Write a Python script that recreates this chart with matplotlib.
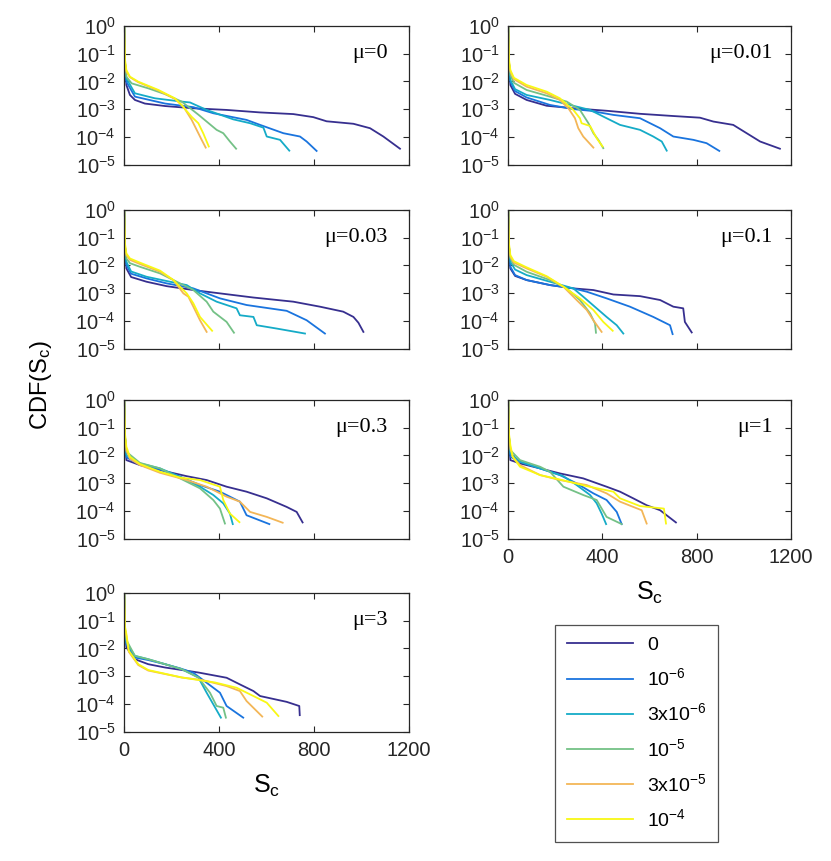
import numpy as np
import matplotlib
matplotlib.use('Agg')
from matplotlib import pyplot as plt
from matplotlib.lines import Line2D

plt.rcParams['font.family'] = ['Liberation Sans', 'DejaVu Sans']
plt.rcParams['mathtext.fontset'] = 'custom'
plt.rcParams['mathtext.rm'] = 'Liberation Sans'
plt.rcParams['mathtext.it'] = 'Liberation Sans:italic'

# rates (legend) and colours
rate_labels = ['0', '10$^{-6}$', '3x10$^{-6}$', '10$^{-5}$', '3x10$^{-5}$', '10$^{-4}$']
colors = ['#372f8f', '#1a74de', '#15abc7', '#74c186', '#f3b657', '#f8f814']
panel_titles = ['\u03bc=0', '\u03bc=0.01', '\u03bc=0.03', '\u03bc=0.1', '\u03bc=0.3', '\u03bc=1', '\u03bc=3']

# S_c values and log10 CDF per panel, one sublist per rate
mu0_s = [[1, 4, 10, 25, 46, 88, 173, 292, 432, 573, 713, 797, 853, 966, 1036, 1092, 1162],
         [1, 4, 10, 46, 102, 173, 292, 376, 516, 573, 671, 741, 769, 811],
         [1, 4, 10, 46, 130, 243, 278, 348, 460, 531, 587, 601, 657, 696],
         [1, 4, 10, 32, 102, 173, 243, 313, 348, 390, 418, 446, 472],
         [1, 4, 10, 25, 60, 145, 214, 250, 285, 306, 327, 344],
         [1, 4, 10, 25, 60, 145, 214, 243, 285, 313, 334, 357]]
mu0_logp = [[0, -1.3, -2.13, -2.49, -2.67, -2.80, -2.89, -2.97, -3.03, -3.12, -3.18, -3.29, -3.44, -3.53, -3.69, -3.99, -4.43],
            [0, -1.3, -2.01, -2.55, -2.66, -2.80, -2.93, -3.15, -3.39, -3.57, -3.87, -3.99, -4.17, -4.51],
            [0, -1.3, -1.89, -2.43, -2.61, -2.73, -2.76, -3.03, -3.37, -3.51, -3.67, -3.99, -4.11, -4.50],
            [0, -1.3, -1.83, -2.07, -2.25, -2.46, -2.73, -3.2, -3.45, -3.75, -3.87, -4.17, -4.43],
            [0, -1.3, -1.65, -1.85, -2.03, -2.33, -2.63, -2.91, -3.39, -3.75, -4.11, -4.39],
            [0, -1.2, -1.59, -1.83, -2.01, -2.31, -2.61, -2.86, -3.28, -3.51, -3.88, -4.35]]

mu001_s = [[1, 4, 10, 30, 79, 164, 277, 418, 560, 701, 814, 871, 955, 1012, 1069, 1153],
           [1, 4, 10, 30, 79, 178, 277, 348, 447, 560, 645, 701, 786, 842, 896],
           [1, 4, 10, 30, 79, 178, 277, 348, 404, 475, 560, 616, 652, 673],
           [1, 4, 10, 25, 79, 178, 249, 305, 341, 362, 383, 404],
           [1, 4, 10, 25, 79, 164, 220, 256, 284, 298, 319, 362],
           [1, 4, 10, 25, 79, 164, 220, 277, 305, 312, 348, 376, 401]]
mu001_logp = [[0, -1.3, -2.13, -2.45, -2.67, -2.88, -2.97, -3.06, -3.17, -3.25, -3.31, -3.45, -3.57, -3.87, -4.17, -4.43],
              [0, -1.3, -2.01, -2.35, -2.58, -2.85, -3.00, -3.06, -3.21, -3.33, -3.69, -3.99, -4.11, -4.23, -4.51],
              [0, -1.3, -1.95, -2.28, -2.49, -2.67, -2.88, -3.03, -3.27, -3.57, -3.75, -3.99, -4.17, -4.50],
              [0, -1.3, -1.77, -2.05, -2.31, -2.55, -2.73, -3.03, -3.51, -3.87, -4.11, -4.41],
              [0, -1.3, -1.65, -1.92, -2.19, -2.43, -2.67, -2.97, -3.33, -3.69, -3.99, -4.39],
              [0, -1.2, -1.59, -1.87, -2.13, -2.37, -2.61, -3.03, -3.33, -3.51, -3.61, -4.05, -4.35]]

mu003_s = [[1, 4, 10, 30, 95, 180, 292, 404, 545, 713, 825, 923, 966, 987, 1008],
           [1, 4, 10, 30, 95, 180, 292, 348, 404, 516, 685, 769, 846],
           [1, 4, 10, 30, 95, 194, 264, 320, 390, 474, 488, 545, 559, 643, 762],
           [1, 4, 10, 25, 67, 152, 222, 292, 348, 376, 432, 463],
           [1, 4, 10, 25, 67, 152, 208, 250, 271, 292, 320, 348],
           [1, 4, 10, 25, 67, 152, 208, 264, 292, 320, 371]]
mu003_logp = [[0, -1.3, -2.11, -2.42, -2.59, -2.75, -2.89, -3.01, -3.16, -3.31, -3.49, -3.67, -3.86, -4.07, -4.40],
              [0, -1.3, -1.99, -2.3, -2.47, -2.65, -2.83, -3.01, -3.19, -3.43, -3.64, -3.98, -4.46],
              [0, -1.3, -1.87, -2.22, -2.41, -2.59, -2.71, -3.01, -3.31, -3.55, -3.80, -3.86, -4.16, -4.28, -4.46],
              [0, -1.3, -1.75, -1.92, -2.05, -2.29, -2.59, -2.89, -3.31, -3.67, -4.04, -4.43],
              [0, -1.3, -1.63, -1.8, -1.95, -2.23, -2.53, -3.01, -3.13, -3.49, -3.98, -4.40],
              [0, -1.2, -1.57, -1.75, -1.90, -2.19, -2.53, -3.01, -3.37, -3.86, -4.36]]

mu01_s = [[1, 4, 10, 30, 79, 178, 277, 362, 447, 560, 645, 701, 743, 750, 779],
          [1, 4, 10, 30, 79, 178, 277, 334, 418, 517, 616, 687, 698],
          [1, 4, 10, 30, 79, 178, 277, 319, 376, 418, 461, 489],
          [1, 4, 10, 25, 79, 178, 249, 305, 348, 369, 373],
          [1, 4, 10, 25, 79, 164, 235, 291, 334, 362, 397],
          [1, 4, 10, 25, 79, 164, 235, 305, 362, 404, 444]]
mu01_logp = [[0, -1.3, -2.11, -2.38, -2.53, -2.71, -2.83, -2.89, -3.05, -3.11, -3.25, -3.49, -3.55, -4.04, -4.42],
             [0, -1.3, -2.05, -2.35, -2.53, -2.71, -2.83, -2.95, -3.19, -3.49, -3.86, -4.16, -4.48],
             [0, -1.3, -1.87, -2.15, -2.35, -2.59, -2.83, -3.13, -3.55, -3.86, -4.16, -4.46],
             [0, -1.3, -1.75, -1.98, -2.23, -2.53, -2.83, -3.25, -3.73, -4.10, -4.43],
             [0, -1.3, -1.69, -1.9, -2.11, -2.41, -2.77, -3.25, -3.61, -3.98, -4.40],
             [0, -1.2, -1.63, -1.85, -2.07, -2.39, -2.77, -3.19, -3.61, -4.04, -4.36]]

mu03_s = [[1, 4, 10, 67, 152, 264, 348, 432, 516, 601, 685, 727, 752],
          [1, 4, 10, 67, 152, 236, 320, 404, 488, 516, 612],
          [1, 4, 10, 67, 152, 236, 320, 376, 418, 446, 458],
          [1, 4, 10, 67, 152, 236, 320, 376, 404, 425],
          [1, 4, 10, 25, 67, 152, 264, 348, 432, 488, 531, 601, 668],
          [1, 4, 10, 25, 67, 152, 236, 320, 404, 418, 446, 486]]
mu03_logp = [[0, -1.3, -2.17, -2.35, -2.53, -2.75, -2.89, -3.13, -3.31, -3.55, -3.86, -4.04, -4.42],
             [0, -1.3, -2.07, -2.33, -2.51, -2.77, -3.07, -3.31, -3.67, -4.16, -4.48],
             [0, -1.3, -1.99, -2.29, -2.47, -2.77, -3.13, -3.43, -3.73, -4.10, -4.48],
             [0, -1.3, -1.87, -2.27, -2.47, -2.83, -3.19, -3.61, -3.92, -4.46],
             [0, -1.3, -1.81, -2.12, -2.35, -2.63, -2.89, -3.13, -3.49, -3.67, -4.04, -4.22, -4.43],
             [0, -1.2, -1.69, -2.05, -2.31, -2.59, -2.80, -2.89, -3.13, -3.61, -4.10, -4.41]]

mu1_s = [[1, 4, 10, 51, 136, 220, 319, 418, 475, 531, 588, 645, 712],
         [1, 4, 10, 51, 136, 220, 291, 362, 418, 461, 482],
         [1, 4, 10, 51, 136, 235, 291, 348, 376, 397, 416],
         [1, 4, 10, 51, 136, 178, 235, 319, 376, 418, 482],
         [1, 4, 10, 20, 51, 136, 220, 334, 418, 475, 531, 567, 588],
         [1, 4, 10, 20, 51, 136, 220, 334, 447, 475, 560, 661, 670]]
mu1_logp = [[0, -1.3, -2.17, -2.29, -2.47, -2.65, -2.83, -3.13, -3.31, -3.55, -3.80, -3.98, -4.42],
            [0, -1.3, -2.05, -2.23, -2.47, -2.71, -3.01, -3.37, -3.61, -4.04, -4.48],
            [0, -1.3, -1.93, -2.23, -2.47, -2.75, -3.07, -3.43, -3.73, -4.10, -4.48],
            [0, -1.3, -1.81, -2.17, -2.41, -2.59, -3.13, -3.43, -3.61, -4.22, -4.48],
            [0, -1.3, -1.75, -2.05, -2.35, -2.71, -2.89, -3.07, -3.37, -3.67, -3.86, -3.98, -4.46],
            [0, -1.2, -1.63, -2.05, -2.41, -2.71, -2.87, -3.11, -3.31, -3.55, -3.83, -3.92, -4.46]]

mu3_s = [[1, 4, 10, 46, 102, 173, 243, 313, 432, 488, 545, 573, 685, 738, 740],
         [1, 4, 10, 46, 102, 173, 236, 292, 348, 404, 432, 502],
         [1, 4, 10, 46, 102, 173, 243, 313, 348, 376, 408],
         [1, 4, 10, 46, 102, 173, 243, 313, 362, 390, 418, 429],
         [1, 4, 10, 20, 60, 102, 243, 334, 432, 488, 516, 582],
         [1, 4, 10, 20, 60, 102, 243, 383, 474, 545, 601, 650]]
mu3_logp = [[0, -1.3, -1.96, -2.39, -2.57, -2.69, -2.78, -2.87, -3.06, -3.30, -3.54, -3.72, -3.93, -4.08, -4.41],
            [0, -1.3, -1.86, -2.33, -2.42, -2.57, -2.72, -2.88, -3.24, -3.60, -4.08, -4.50],
            [0, -1.3, -1.80, -2.27, -2.39, -2.57, -2.75, -3.05, -3.60, -4.02, -4.50],
            [0, -1.3, -1.70, -2.27, -2.39, -2.57, -2.75, -3.05, -3.60, -4.08, -4.14, -4.50],
            [0, -1.3, -1.55, -2.12, -2.6, -2.8, -3.05, -3.15, -3.36, -3.54, -3.90, -4.46],
            [0, -1.2, -1.48, -2.08, -2.57, -2.78, -3.05, -3.23, -3.42, -3.72, -3.96, -4.44]]

panels_s = [mu0_s, mu001_s, mu003_s, mu01_s, mu03_s, mu1_s, mu3_s]
panels_logp = [mu0_logp, mu001_logp, mu003_logp, mu01_logp, mu03_logp, mu1_logp, mu3_logp]

W, H = 831, 861
fig = plt.figure(figsize=(W / 100, H / 100), dpi=100)

col_left = [124, 508]
col_width = [285, 283]
row_top = [26, 210, 400, 593]
row_height = 138.5

ytick_vals = [1e-5, 1e-4, 1e-3, 1e-2, 1e-1, 1]
ytick_labels = ['10$^{-5}$', '10$^{-4}$', '10$^{-3}$', '10$^{-2}$', '10$^{-1}$', '10$^{0}$']
xtick_vals = [0, 400, 800, 1200]

axes = []
for k in range(7):
    r, c = k // 2, k % 2
    x0 = col_left[c] / W
    y0 = 1 - (row_top[r] + row_height) / H
    ax = fig.add_axes([x0, y0, col_width[c] / W, row_height / H])
    for s, lp, col in zip(panels_s[k], panels_logp[k], colors):
        ax.plot(s, 10 ** np.array(lp), color=col, lw=1.3)
    ax.set_yscale('log')
    ax.set_ylim(1e-5, 1)
    ax.set_xlim(0, 1200)
    ax.set_yticks(ytick_vals)
    ax.set_yticklabels(ytick_labels)
    ax.set_xticks(xtick_vals)
    ax.tick_params(which='both', direction='in', top=True, right=True,
                   labelsize=14.5, colors='0.15')
    ax.tick_params(axis='y', pad=6)
    ax.tick_params(axis='x', pad=7)
    ax.tick_params(which='major', length=4)
    ax.tick_params(which='minor', length=2)
    for sp in ax.spines.values():
        sp.set_color('0.15')
        sp.set_linewidth(0.9)
    if k in (5, 6):
        ax.set_xlabel('S$_{\\rm c}$', fontsize=18, labelpad=9)
    else:
        ax.set_xticklabels([])
    xr = 0.925 if c == 0 else 0.935
    ax.text(xr, 0.80, panel_titles[k], transform=ax.transAxes, ha='right',
            va='center', fontsize=16, family=['Liberation Serif', 'DejaVu Serif'])
    axes.append(ax)

fig.text(41 / W, 1 - 385 / H, 'CDF(S$_{\\rm c}$)', rotation=90, ha='center',
         va='center', fontsize=17)

handles = [Line2D([], [], color=col, lw=1.3) for col in colors]
leg = fig.legend(handles, rate_labels, loc='upper left',
                 bbox_to_anchor=(555 / W, 1 - 625 / H), fontsize=14,
                 handlelength=3.4, labelspacing=0.68, borderpad=0.6,
                 handletextpad=0.75, fancybox=False, borderaxespad=0)
leg.get_frame().set_edgecolor('0.15')
leg.get_frame().set_linewidth(0.9)

fig.savefig('out.png', dpi=100)
